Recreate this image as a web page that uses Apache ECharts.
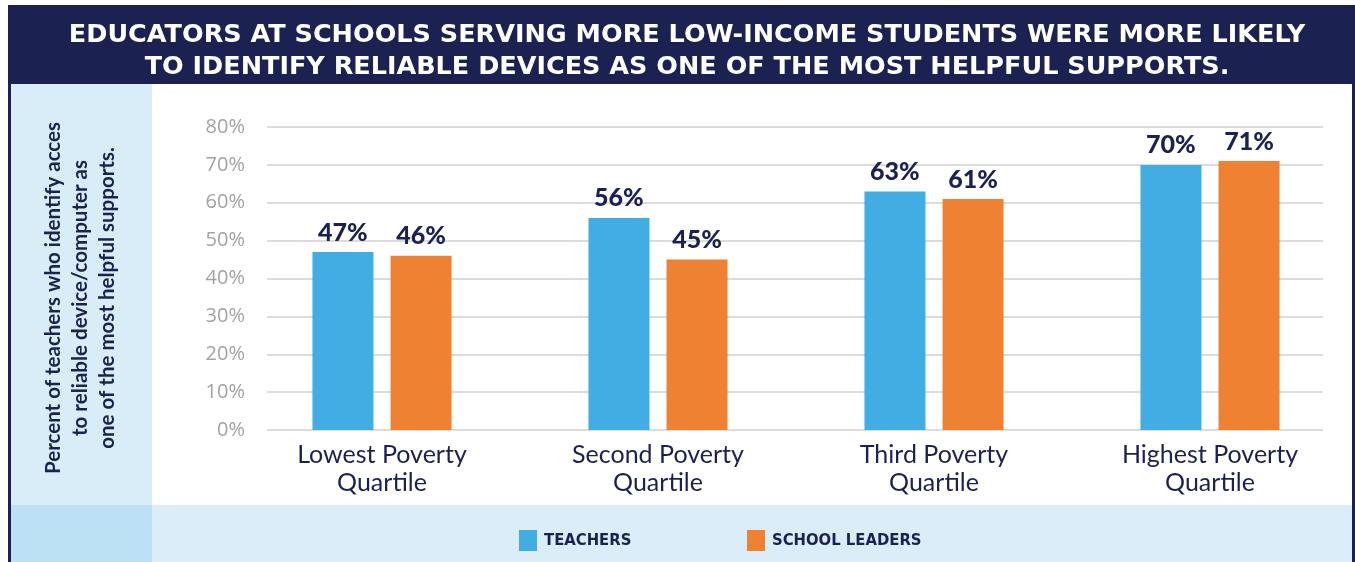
<!DOCTYPE html>
<html>
<head>
<meta charset="utf-8">
<script src="https://cdn.jsdelivr.net/npm/echarts@6/dist/echarts.min.js"></script>
<style>
html,body{margin:0;padding:0;background:#fff;}
#c{width:1355px;height:562px;}
</style>
</head>
<body>
<div id="c"></div>
<script>
const categories = ["Lowest Poverty\nQuartile", "Second Poverty\nQuartile", "Third Poverty\nQuartile", "Highest Poverty\nQuartile"];
const teachers = [47, 56, 63, 70];
const schoolLeaders = [46, 45, 61, 71];
const seriesNames = ["TEACHERS", "SCHOOL LEADERS"];
const titleText = "EDUCATORS AT SCHOOLS SERVING MORE LOW-INCOME STUDENTS WERE MORE LIKELY\nTO IDENTIFY RELIABLE DEVICES AS ONE OF THE MOST HELPFUL SUPPORTS.";
const yAxisTitle = "Percent of teachers who identify acces\nto reliable device/computer as\none of the most helpful supports.";

const NAVY = "#1b2150";
const BLUE = "#41ade2";
const ORANGE = "#ef8132";

const chart = echarts.init(document.getElementById('c'), null, {renderer: 'canvas'});
const legendText = {color: NAVY, fontFamily: 'DejaVu Sans Condensed', fontWeight: 'bold', fontSize: 16.5, padding: [0,0,0,2]};
const option = {
  backgroundColor: '#ffffff',
  animation: false,
  title: {
    text: titleText,
    left: 682, top: 14, textAlign: 'center',
    textStyle: {color: '#ffffff', fontFamily: 'DejaVu Sans', fontWeight: 'bold', fontSize: 25.5, lineHeight: 32}
  },
  graphic: [
    {type: 'rect', z: -10, shape: {x: 8, y: 5, width: 1347, height: 79}, style: {fill: NAVY}},
    {type: 'rect', z: -10, shape: {x: 8, y: 84, width: 3, height: 478}, style: {fill: NAVY}},
    {type: 'rect', z: -10, shape: {x: 1352, y: 84, width: 3, height: 478}, style: {fill: NAVY}},
    {type: 'rect', z: -10, shape: {x: 11, y: 84, width: 141, height: 421}, style: {fill: '#d9edf8'}},
    {type: 'rect', z: -10, shape: {x: 11, y: 505, width: 141, height: 57}, style: {fill: '#bde1f4'}},
    {type: 'rect', z: -10, shape: {x: 152, y: 505, width: 1200, height: 57}, style: {fill: '#daedf8'}},
    {type: 'text', z: 10, x: 80, y: 298, rotation: Math.PI / 2,
      style: {text: yAxisTitle, fill: NAVY, fontFamily: 'Lato', fontWeight: 'bold', fontSize: 20.5, lineHeight: 27,
        align: 'center', verticalAlign: 'middle'}}
  ],
  legend: [
    {data: [seriesNames[0]], left: 514, top: 525, itemWidth: 18, itemHeight: 21, itemGap: 0,
      icon: 'rect', textStyle: legendText},
    {data: [seriesNames[1]], left: 742, top: 525, itemWidth: 18, itemHeight: 21, itemGap: 0,
      icon: 'rect', textStyle: legendText}
  ],
  grid: [
    {left: 244, right: 7, top: 127, bottom: 132},
    {left: 267, right: 32, top: 127, bottom: 132}
  ],
  xAxis: [
    {type: 'category', gridIndex: 0, data: categories,
      axisLine: {show: false}, axisTick: {show: false},
      axisLabel: {color: NAVY, fontFamily: 'Lato', fontSize: 25, lineHeight: 28, margin: 11, interval: 0}},
    {type: 'value', gridIndex: 1, show: false, min: 0, max: 1}
  ],
  yAxis: [
    {type: 'value', gridIndex: 0, min: 0, max: 80, interval: 10, show: false, splitLine: {show: false}},
    {type: 'value', gridIndex: 1, min: 0, max: 80, interval: 10,
      axisLine: {show: false}, axisTick: {show: false},
      axisLabel: {color: '#a3a3a3', fontFamily: 'Open Sans', fontSize: 20, margin: 22, formatter: '{value}%'},
      splitLine: {lineStyle: {color: '#dcdcdc', width: 2}}}
  ],
  series: [
    {name: seriesNames[0], type: 'bar', xAxisIndex: 0, yAxisIndex: 0, data: teachers,
      barWidth: 61, barGap: '28%', itemStyle: {color: BLUE},
      label: {show: true, position: 'top', distance: 7, formatter: '{c}%', color: NAVY,
        fontFamily: 'Lato', fontWeight: 900, fontSize: 25}},
    {name: seriesNames[1], type: 'bar', xAxisIndex: 0, yAxisIndex: 0, data: schoolLeaders,
      barWidth: 61, barGap: '28%', itemStyle: {color: ORANGE},
      label: {show: true, position: 'top', distance: 7, formatter: '{c}%', color: NAVY,
        fontFamily: 'Lato', fontWeight: 900, fontSize: 25}}
  ]
};
chart.setOption(option);
</script>
</body>
</html>
